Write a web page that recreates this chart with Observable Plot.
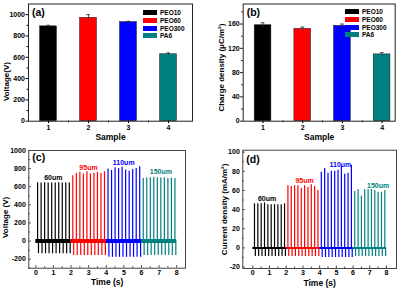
<!DOCTYPE html>
<html>
<head>
<meta charset="utf-8">
<script src="https://cdn.jsdelivr.net/npm/d3@7"></script>
<script src="https://cdn.jsdelivr.net/npm/@observablehq/plot@0.6"></script>
<style>
  body { margin: 0; background: #fff; }
  #fig { position: relative; width: 406px; height: 291px; overflow: hidden; background: #fff;
         font-family: "Liberation Sans", Arial, sans-serif; font-weight: bold; }
  .panel { position: absolute; }
  .panel svg { overflow: visible; }
  .legend { position: absolute; font-size: 6.5px; color: #000; }
  .legend .row { display: flex; align-items: center; height: 7.7px; }
  .legend .sw { display: inline-block; width: 14px; height: 5px; margin-right: 3px; }
</style>
</head>
<body>
<div id="fig"></div>
<script>
// Samples and materials shared by the bar panels
const samples = [1, 2, 3, 4];
const materials = ["PEO10", "PEO60", "PEO300", "PA6"];
const colors = ["#000000", "#ff0000", "#0000ff", "#008080"];

// (a) output voltage and (b) charge density, with error bars
const voltage = [890, 970, 930, 628];
const voltageErr = [10, 30, 8, 12];
const charge = [158, 152, 157, 110];
const chargeErr = [4, 3, 3, 3];

// (c)/(d) pulse trains for four film thicknesses, 2 s each
const thickness = ["60um", "95um", "110um", "150um"];
const segStart = [0, 2, 4, 6];
const voltPeaks = [
  [645, 640, 645, 640, 642, 640, 645, 640, 642, 640],
  [720, 745, 760, 740, 765, 740, 750, 760, 745, 765],
  [795, 780, 810, 800, 815, 785, 770, 790, 800, 820],
  [690, 695, 700, 705, 700, 695, 700, 690, 695, 690]
];
const voltNeg = [-140, -160, -180, -160];
const currPeaks = [
  [46, 46, 46, 47, 45, 45, 45, 45, 45, 46],
  [65, 64, 65, 65, 62, 65, 63, 66, 64, 60],
  [79, 83, 78, 80, 80, 81, 85, 77, 78, 86],
  [59, 61, 54, 61, 61, 61, 60, 58, 58, 60]
];
const currNeg = [-9, -9, -10, -9];

// Annotation anchors (data coordinates) for the thickness labels
const voltLabelT = [0.99, 2.99, 4.99, 7.1];
const voltLabelV = [695, 805, 860, 760];
const currLabelT = [0.85, 3.1, 5.24, 7.5];
const currLabelV = [51, 70, 87, 65];

const FONT = '"Liberation Sans", Arial, sans-serif';
const pulsePeriod = 0.2, pulseOffset = 0.1;
const plain = d => String(d);

function baseStyle() {
  return { fontFamily: FONT, fontWeight: "bold", fontSize: "7px", background: "transparent", color: "#000" };
}

function centeredText(str, opts) {
  return Plot.text([str], { text: d => d, textAnchor: "middle", lineAnchor: "middle", ...opts });
}

function barPanel(o) {
  const rows = samples.map((s, i) => ({ s, v: o.values[i], e: o.errors[i], c: colors[i] }));
  return Plot.plot({
    width: 203, height: 145,
    marginLeft: o.ml, marginRight: o.mr, marginTop: o.mt, marginBottom: o.mb,
    x: { domain: o.xDomain }, y: { domain: o.yDomain },
    style: baseStyle(),
    marks: [
      Plot.rectY(rows, { x1: d => d.s - 0.21, x2: d => d.s + 0.21, y: "v", fill: "c", stroke: "#111", strokeWidth: 0.5 }),
      Plot.ruleX(rows, { x: "s", y1: d => d.v - d.e, y2: d => d.v + d.e, stroke: "#333", strokeWidth: 0.8 }),
      Plot.ruleY(rows, { y: d => d.v + d.e, x1: d => d.s - 0.05, x2: d => d.s + 0.05, stroke: "#333", strokeWidth: 0.8 }),
      Plot.frame({ stroke: "#222", strokeWidth: 1 }),
      Plot.axisX({ ticks: samples, tickFormat: plain, tickSize: 2.5, tickPadding: 1.5, label: null, fontSize: 7 }),
      Plot.axisX({ ticks: [1.5, 2.5, 3.5], tickSize: 1.5, tickFormat: () => "", label: null }),
      Plot.axisY({ ticks: o.yTicks, tickFormat: plain, tickSize: 2.5, tickPadding: 1, label: null, fontSize: 7 }),
      Plot.axisY({ ticks: o.yMinor, tickSize: 1.5, tickFormat: () => "", label: null }),
      centeredText("Sample", { frameAnchor: "bottom", dy: 16.5, fontSize: 8.5 }),
      centeredText(o.ylabel, { frameAnchor: "left", dx: o.ylx, dy: o.yly, rotate: -90, fontSize: 8 }),
      Plot.text([o.letter], { text: d => d, frameAnchor: "top-left", dx: 3.5, dy: o.ldy, fontSize: 10.5,
                              textAnchor: "start", lineAnchor: "middle" })
    ]
  });
}

function pulsePanel(o) {
  const pos = [], neg = [], base = [], labels = [];
  o.peaks.forEach((arr, k) => {
    arr.forEach((p, i) => {
      const t = segStart[k] + pulseOffset + i * pulsePeriod;
      pos.push({ t, v: p, c: colors[k] });
      neg.push({ t: t + 0.05, v: o.negs[k], c: colors[k] });
    });
    base.push({ x1: segStart[k], x2: segStart[k] + 2, c: colors[k] });
    labels.push({ t: o.labelT[k], v: o.labelV[k], text: thickness[k], c: colors[k] });
  });
  const height = 146, width = 203;
  const ih = height - o.mt - o.mb, iw = width - o.ml - o.mr;
  const xTicks = d3.range(0, 9), xMinor = d3.range(0.5, 8, 1);
  return Plot.plot({
    width, height,
    marginLeft: o.ml, marginRight: o.mr, marginTop: o.mt, marginBottom: o.mb,
    x: { domain: o.xDomain }, y: { domain: o.yDomain },
    style: baseStyle(),
    marks: [
      Plot.ruleX(neg, { x: "t", y1: 0, y2: "v", stroke: "c", strokeWidth: 1.2 }),
      Plot.ruleX(pos, { x: "t", y1: 0, y2: "v", stroke: "c", strokeWidth: 1.2 }),
      Plot.ruleY(base, { y: () => 0, x1: "x1", x2: "x2", stroke: "c", strokeWidth: o.baseWidth }),
      Plot.text(labels, { x: "t", y: "v", text: "text", fill: "c", fontSize: 7 }),
      Plot.frame({ stroke: "#444", strokeWidth: 1 }),
      // inward ticks, Origin style
      Plot.ruleX(xTicks, { x: d => d, insetTop: ih - 2.5, stroke: "#444" }),
      Plot.ruleX(xMinor, { x: d => d, insetTop: ih - 1.5, stroke: "#444" }),
      Plot.ruleY(o.yTicks, { y: d => d, insetRight: iw - 2.5, stroke: "#444" }),
      Plot.ruleY(o.yMinor, { y: d => d, insetRight: iw - 1.5, stroke: "#444" }),
      Plot.axisX({ ticks: xTicks, tickFormat: plain, tickSize: 0, tickPadding: 2, label: null, fontSize: 7 }),
      Plot.axisY({ ticks: o.yTicks, tickFormat: plain, tickSize: 0, tickPadding: 3, label: null, fontSize: 7 }),
      centeredText("Time (s)", { frameAnchor: "bottom", dy: o.tdy, fontSize: 8.5 }),
      centeredText(o.ylabel, { frameAnchor: "left", dx: o.ylx, dy: o.yly, rotate: -90, fontSize: 8 }),
      Plot.text([o.letter], { text: d => d, frameAnchor: "top-left", dx: 3.5, dy: o.ldy, fontSize: 10.5,
                              textAnchor: "start", lineAnchor: "middle" })
    ]
  });
}

function place(node, left, top) {
  const div = document.createElement("div");
  div.className = "panel";
  div.style.left = left + "px";
  div.style.top = top + "px";
  div.appendChild(node);
  document.getElementById("fig").appendChild(div);
}

function legend(left, top) {
  const box = document.createElement("div");
  box.className = "legend";
  box.style.left = left + "px";
  box.style.top = top + "px";
  materials.forEach((m, i) => {
    const row = document.createElement("div");
    row.className = "row";
    const sw = document.createElement("span");
    sw.className = "sw";
    sw.style.background = colors[i];
    row.appendChild(sw);
    row.appendChild(document.createTextNode(m));
    box.appendChild(row);
  });
  document.getElementById("fig").appendChild(box);
}

place(barPanel({
  values: voltage, errors: voltageErr,
  xDomain: [0.5, 4.6], yDomain: [0, 1100],
  yTicks: d3.range(0, 1001, 200), yMinor: d3.range(100, 1100, 200),
  ml: 28, mr: 11, mt: 3.5, mb: 24.3,
  ylabel: "Voltage(V)", ylx: -22.5, yly: 19, letter: "(a)", ldy: 8.5
}), 0, 0);

place(barPanel({
  values: charge, errors: chargeErr,
  xDomain: [0.5, 4.33], yDomain: [0, 193],
  yTicks: d3.range(0, 161, 40), yMinor: d3.range(20, 193, 40),
  ml: 39.7, mr: 11.3, mt: 3.5, mb: 24.3,
  ylabel: "Charge density (μC/m²)", ylx: -21.5, yly: 5, letter: "(b)", ldy: 8.5
}), 203, 0);

place(pulsePanel({
  peaks: voltPeaks, negs: voltNeg, labelT: voltLabelT, labelV: voltLabelV,
  xDomain: [-0.4, 8.5], yDomain: [-300, 1000],
  yTicks: d3.range(-200, 1001, 200), yMinor: d3.range(-300, 1001, 200),
  ml: 28.3, mr: 18, mt: 5, mb: 23.3, baseWidth: 4,
  ylabel: "Voltage (V)", ylx: -23, yly: 8, letter: "(c)", tdy: 14.3, ldy: 7.5
}), 0, 145);

place(pulsePanel({
  peaks: currPeaks, negs: currNeg, labelT: currLabelT, labelV: currLabelV,
  xDomain: [-0.6, 8.6], yDomain: [-21.5, 102],
  yTicks: d3.range(-20, 101, 20), yMinor: d3.range(-10, 101, 20),
  ml: 39.3, mr: 10, mt: 4.7, mb: 23, baseWidth: 2,
  ylabel: "Current density (mA/m²)", ylx: -18.3, yly: 0, letter: "(d)", tdy: 14.3, ldy: 9.3
}), 203, 145);

legend(143, 9);
legend(345, 8);
</script>
</body>
</html>
